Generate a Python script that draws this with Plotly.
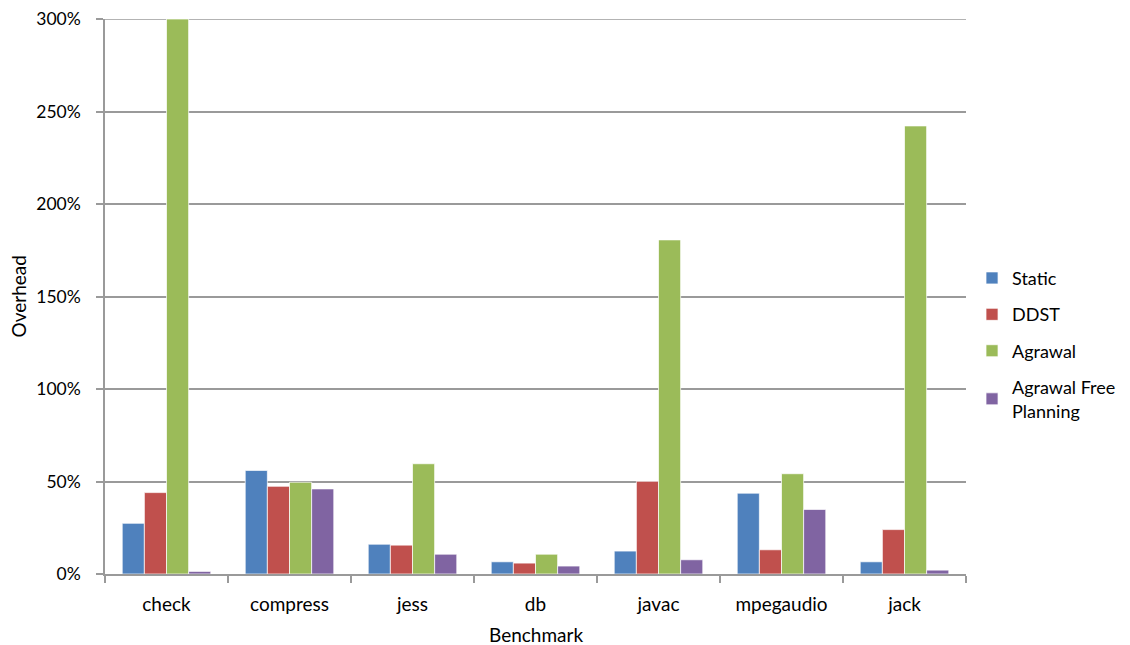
import plotly.graph_objects as go

categories = ["check", "compress", "jess", "db", "javac", "mpegaudio", "jack"]
static = [27.4, 56.0, 16.1, 6.6, 12.4, 43.7, 6.6]
ddst = [44.0, 47.4, 15.6, 5.9, 50.1, 13.1, 24.0]
agrawal = [300.0, 49.6, 59.6, 10.7, 180.6, 54.2, 242.2]
agrawal_free = [1.4, 46.0, 10.7, 4.3, 7.7, 34.9, 2.1]
y_ticks = [0, 0.5, 1, 1.5, 2, 2.5, 3]

series = [
    ("Static", static, "#4F81BD"),
    ("DDST", ddst, "#C0504D"),
    ("Agrawal", agrawal, "#9BBB59"),
    ("Agrawal Free<br>Planning", agrawal_free, "#8064A2"),
]

FONT = "Lato, Open Sans, sans-serif"
GRID = "#9a9a9a"

fig = go.Figure()
for i, (name, vals, col) in enumerate(series):
    fig.add_trace(go.Bar(
        x=categories, y=[v / 100 for v in vals], name=name,
        marker=dict(color=col, line=dict(color="rgba(255,255,255,0.7)", width=1)),
        legendgroup=str(i),
    ))

# top gridline (at the upper end of the axis range)
fig.add_shape(type="line", xref="paper", yref="y", x0=0, x1=1,
              y0=y_ticks[-1], y1=y_ticks[-1], layer="below",
              line=dict(color=GRID, width=1.5))

fig.update_layout(
    width=1130, height=637,
    margin=dict(l=97, r=172, t=11, b=71, autoexpand=False),
    paper_bgcolor="white", plot_bgcolor="white",
    barmode="group", bargap=0.28, bargroupgap=0,
    font=dict(family=FONT, size=19, color="#000000"),
    legend=dict(x=1.007, y=0.414, xanchor="left", yanchor="middle",
                font=dict(size=18), tracegroupgap=10, itemwidth=30),
    xaxis=dict(
        automargin=False,
        showline=True, linecolor=GRID, linewidth=1.5,
        ticks="outside", tickson="boundaries", ticklen=7, tickcolor=GRID,
        tickwidth=1.5, tickfont=dict(size=19), ticklabelstandoff=12,
    ),
    yaxis=dict(
        automargin=False,
        range=[0, 3.0], tickvals=y_ticks,
        tickformat=".0%", showgrid=True, gridcolor=GRID, gridwidth=1.5,
        showline=True, linecolor=GRID, linewidth=1.5,
        ticks="outside", ticklen=7, tickcolor=GRID, tickwidth=1.5,
        tickfont=dict(size=17.5), ticklabelstandoff=12, zeroline=False,
        ticklabeloverflow="allow",
    ),
    annotations=[
        dict(text="Benchmark", xref="paper", yref="paper", x=0.5, y=0,
             yshift=-60, xanchor="center", yanchor="middle", showarrow=False,
             font=dict(size=19)),
        dict(text="Overhead", xref="paper", yref="paper", x=0, y=0.5,
             xshift=-87, xanchor="center", yanchor="middle", showarrow=False,
             textangle=-90, font=dict(size=19)),
    ],
)

fig.write_html("out.html")
